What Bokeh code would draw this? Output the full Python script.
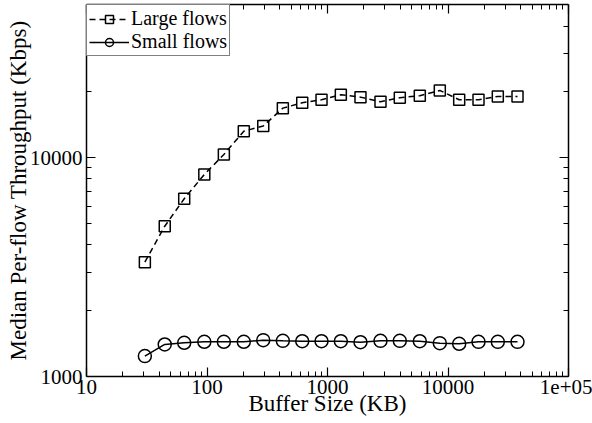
from bokeh.plotting import figure
from bokeh.models import (LogAxis, FixedTicker, Legend, LegendItem, Range1d,
                          CustomLabelingPolicy)
from bokeh.embed import file_html
from bokeh.resources import INLINE

# ---- data ----
buffer_kb = [30.5, 44.6, 64.7, 95, 138, 202, 293, 426, 617, 892,
             1290, 1878, 2753, 3981, 5834, 8551, 12385, 17912, 25902, 37740]
large_flows = [3332, 4866, 6494, 8387, 10354, 13231, 13975, 16860, 17847, 18416,
               19418, 18931, 18037, 18812, 19210, 20314, 18416, 18416, 19070, 19070]
small_flows = [1240, 1401, 1426, 1441, 1441, 1441, 1466, 1456, 1450, 1450,
               1450, 1435, 1456, 1456, 1450, 1420, 1411, 1440, 1440, 1440]

x_major = [10, 100, 1000, 10000, 100000]
x_labels = ["10", "100", "1000", "10000", "1e+05"]
y_major = [1000, 10000]
y_labels = ["1000", "10000"]

x_minor = [m * d for d in [10, 100, 1000, 10000] for m in range(2, 10)]
y_minor = [m * d for d in [1000] for m in range(2, 10)] + [20000, 30000, 40000]

FONT = "Liberation Serif"

p = figure(width=592, height=423, x_axis_type="log", y_axis_type="log",
           x_range=Range1d(10, 100000), y_range=Range1d(1000, 50200),
           output_backend="svg", toolbar_location=None,
           min_border_left=86, min_border_right=24, min_border_top=4,
           min_border_bottom=47)
p.xgrid.visible = False
p.ygrid.visible = False
p.outline_line_color = None
p.background_fill_color = "white"
p.border_fill_color = "white"


def style(ax, ticks, minor, labels, show_labels):
    ax.ticker = FixedTicker(ticks=ticks, minor_ticks=minor)
    ax.major_tick_in = 9
    ax.major_tick_out = 0
    ax.minor_tick_in = 5
    ax.minor_tick_out = 0
    ax.axis_line_color = "black"
    ax.axis_line_width = 1.5
    ax.major_tick_line_color = "black"
    ax.major_tick_line_width = 1.2
    ax.minor_tick_line_color = "black"
    ax.minor_tick_line_width = 1
    ax.major_label_overrides = {t: l for t, l in zip(ticks, labels)}
    ax.major_label_text_font = FONT
    ax.major_label_text_color = "black"
    if show_labels:
        ax.major_label_text_font_size = "21px"
    else:
        ax.major_label_text_font_size = "0px"
        ax.major_label_standoff = 0
        ax.major_label_policy = CustomLabelingPolicy(code="return new Set()")
    ax.axis_label_text_font = FONT
    ax.axis_label_text_font_size = "23px"
    ax.axis_label_text_font_style = "normal"
    ax.axis_label_text_color = "black"


xa = p.xaxis[0]
style(xa, x_major, x_minor, x_labels, True)
xa.axis_label = "Buffer Size (KB)"
xa.major_label_standoff = 3
xa.axis_label_standoff = -6

ya = p.yaxis[0]
style(ya, y_major, y_minor, y_labels, True)
ya.axis_label = "Median Per-flow Throughput (Kbps)"
ya.major_label_standoff = 4
ya.axis_label_standoff = -4

top = LogAxis()
style(top, x_major, x_minor, x_labels, False)
p.add_layout(top, "above")
right = LogAxis()
style(right, y_major, y_minor, y_labels, False)
p.add_layout(right, "right")

l1 = p.line(buffer_kb, large_flows, line_color="black", line_width=1.5, line_dash="6 4")
s1 = p.scatter(buffer_kb, large_flows, marker="square", size=11, fill_color=None,
               line_color="black", line_width=1.5)
l2 = p.line(buffer_kb, small_flows, line_color="black", line_width=1.5)
s2 = p.scatter(buffer_kb, small_flows, marker="circle", size=13, fill_color=None,
               line_color="black", line_width=1.5)

legend = Legend(items=[LegendItem(label="Large flows", renderers=[l1, s1]),
                       LegendItem(label="Small flows", renderers=[l2, s2])],
                location="top_left", margin=0, padding=2, spacing=0,
                border_line_color="black", border_line_width=1,
                background_fill_color="white", background_fill_alpha=1,
                label_text_font=FONT, label_text_font_size="20px",
                label_text_color="black",
                glyph_width=40, glyph_height=20, label_height=20, label_standoff=2)
p.add_layout(legend)

open("out.html", "w").write(file_html(p, INLINE))
